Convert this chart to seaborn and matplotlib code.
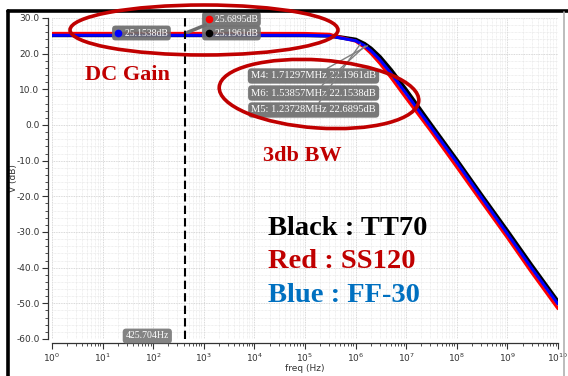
import numpy as np
import pandas as pd
import matplotlib
matplotlib.use("Agg")
import matplotlib.pyplot as plt
import matplotlib.transforms as mtransforms
from matplotlib.patches import Ellipse
from matplotlib.lines import Line2D
import matplotlib.ticker as mticker
import seaborn as sns

# ---------------- data ----------------
freq_hz = [1, 10, 100, 1e3, 1e4, 1e5, 3e5, 1e6, 1.5e6, 2e6, 3e6, 5e6,
           1e7, 3e7, 1e8, 3e8, 1e9, 3e9, 1e10]
tt70_db = [25.20, 25.20, 25.20, 25.20, 25.20, 25.19, 25.07, 23.92, 22.72, 21.45,
           19.10, 15.40, 9.73, 0.30, -9.90, -19.50, -29.80, -39.40, -49.60]
ss120_db = [25.69, 25.69, 25.69, 25.69, 25.69, 25.67, 25.44, 23.51, 21.76, 20.11,
            17.31, 13.31, 7.50, -1.50, -11.80, -21.30, -31.60, -41.30, -51.50]
ff30_db = [25.15, 25.15, 25.15, 25.15, 25.15, 25.14, 24.99, 23.62, 22.25, 20.85,
           18.34, 14.52, 8.80, -0.40, -10.50, -20.10, -30.50, -40.10, -50.20]

corners = ["TT70", "SS120", "FF-30"]
corner_colors = ["#000000", "#ff0000", "#0000ff"]
corner_widths = [3.0, 2.2, 2.2]

marker_freq = 425.704
dc_labels = ["25.1961dB", "25.6895dB", "25.1538dB"]
bw_labels = ["M4: 1.71297MHz 22.1961dB", "M6: 1.53857MHz 22.1538dB",
             "M5: 1.23728MHz 22.6895dB"]
bw_freqs = [1.71297e6, 1.53857e6, 1.23728e6]
bw_vals = [22.1961, 22.1538, 22.6895]

y_ticks = [30, 20, 10, 0, -10, -20, -30, -40, -50, -60]
x_ticks = [10.0 ** k for k in range(0, 11)]

legend_lines = ["Black : TT70", "Red : SS120", "Blue : FF-30"]
legend_colors = ["#000000", "#c00000", "#0070c0"]

# ---------------- figure ----------------
sns.set_theme(style="white")
plt.rcParams['font.family'] = ['DejaVu Sans']

W, H = 568, 376
fig = plt.figure(figsize=(W / 100, H / 100), dpi=100)
fig.patch.set_facecolor("white")
px = mtransforms.Affine2D().scale(0.01, -0.01).translate(0, H / 100) + fig.dpi_scale_trans

ax = fig.add_axes([52 / W, 1 - 339 / H, (558 - 52) / W, (339 - 18) / H])
ax.set_facecolor("white")

df = pd.concat([
    pd.DataFrame({"freq": freq_hz, "db": tt70_db, "corner": "TT70"}),
    pd.DataFrame({"freq": freq_hz, "db": ss120_db, "corner": "SS120"}),
    pd.DataFrame({"freq": freq_hz, "db": ff30_db, "corner": "FF-30"}),
])

ax.set_xscale("log")
for c, col, lw in zip(corners, corner_colors, corner_widths):
    sub = df[df["corner"] == c]
    sns.lineplot(data=sub, x="freq", y="db", color=col, linewidth=lw, ax=ax,
                 legend=False, zorder=3)

ax.set_xlim(1, 1e10)
ax.set_ylim(-60, 30)
ax.set_xticks(x_ticks)
ax.xaxis.set_major_formatter(mticker.LogFormatterMathtext())
ax.xaxis.set_minor_locator(mticker.LogLocator(base=10, subs=np.arange(2, 10), numticks=100))
ax.xaxis.set_minor_formatter(mticker.NullFormatter())
ax.set_yticks(y_ticks)
ax.yaxis.set_major_formatter(mticker.FormatStrFormatter("%.1f"))
ax.yaxis.set_minor_locator(mticker.MultipleLocator(2))

ax.grid(True, which="major", color="#cccccc", linestyle=(0, (1, 1)), linewidth=0.6)
ax.grid(True, which="minor", color="#e2e2e2", linestyle=(0, (1, 1)), linewidth=0.5)
ax.set_axisbelow(True)

for s in ["top", "right"]:
    ax.spines[s].set_visible(False)
ax.spines["left"].set_position(("outward", 3))
ax.spines["bottom"].set_position(("outward", 3))
for s in ["left", "bottom"]:
    ax.spines[s].set_color("#333333")
    ax.spines[s].set_linewidth(0.9)

ax.tick_params(axis="both", which="major", direction="out", length=4, width=0.8,
               color="#333333", labelsize=6.5, labelcolor="#333333", pad=2,
               left=True, bottom=True)
ax.tick_params(axis="both", which="minor", direction="out", length=2, width=0.6,
               color="#333333", left=True, bottom=True)
ax.set_xlabel("freq (Hz)", fontsize=6.5, color="#333333", labelpad=0)
ax.set_ylabel("V (dB)", fontsize=6.5, color="#333333")
ax.yaxis.set_label_coords(18, 178, transform=px)

# vertical dashed marker line
ax.axvline(marker_freq, color="black", linestyle=(0, (4, 2)), linewidth=1.5, zorder=4)

lab_font = ["Liberation Serif", "DejaVu Serif"]
boxkw = dict(boxstyle="round,pad=0.3,rounding_size=0.35", facecolor="#6e6e6e",
             edgecolor="none", alpha=0.92)

# pointer from red label to the curve
ax.annotate("", xy=(marker_freq, ss120_db[3]), xytext=(208, 24), textcoords=px,
            arrowprops=dict(arrowstyle="-", color="#6e6e6e", lw=2.5), zorder=5)

# DC gain marker labels (box includes room for the coloured dot)
dc_pos = [(205, 33), (205, 19), (115, 33)]
dot_pos = [(209, 33), (209, 19), (118, 33)]
for lab, (tx, ty), (dx, dy), col in zip(dc_labels, dc_pos, dot_pos, corner_colors):
    ax.text(tx, ty, "    " + lab, transform=px, fontsize=7, color="white",
            va="center", ha="left", bbox=boxkw, zorder=6, clip_on=False,
            family=lab_font)
    fig.add_artist(Line2D([dx], [dy], marker="o", markersize=4.5, color=col,
                          transform=px, zorder=7))

# 3dB bandwidth labels
bw_pos = [(376, 76), (376, 93), (376, 110)]
for lab, (tx, ty), f, v in zip(bw_labels, bw_pos, bw_freqs, bw_vals):
    ax.annotate(lab, xy=(f, v), xytext=(tx, ty), textcoords=px, fontsize=7.6,
                color="white", va="center", ha="right", family=lab_font,
                bbox=boxkw,
                arrowprops=dict(arrowstyle="-", color="#808080", lw=1.0,
                                shrinkA=0, shrinkB=0),
                zorder=6, annotation_clip=False)

# marker frequency label at bottom
ax.text(169, 336, "425.704Hz", transform=px, fontsize=7, color="white",
        ha="right", va="center", family=lab_font,
        bbox=dict(boxstyle="round,pad=0.3,rounding_size=0.35", facecolor="#7a7a7a",
                  edgecolor="none", alpha=0.92), zorder=6, clip_on=False)

# red ellipses
fig.add_artist(Ellipse((204, 30), 268, 50, angle=0, transform=px, fill=False,
                       edgecolor="#c00000", linewidth=2.6, zorder=8))
fig.add_artist(Ellipse((319, 94), 200, 68, angle=4, transform=px, fill=False,
                       edgecolor="#c00000", linewidth=2.6, zorder=8))

serif = ["Liberation Serif", "DejaVu Serif"]
fig.text(85 / W, 1 - 75 / H, "DC Gain", fontsize=16, fontweight="bold",
         color="#c00000", family=serif, ha="left", va="center", zorder=9)
fig.text(263 / W, 1 - 156 / H, "3db BW", fontsize=16, fontweight="bold",
         color="#c00000", family=serif, ha="left", va="center", zorder=9)
for i, (t, c) in enumerate(zip(legend_lines, legend_colors)):
    fig.text(268 / W, 1 - (228 + 33.5 * i) / H, t, fontsize=20.5, fontweight="bold",
             color=c, family=serif, ha="left", va="center", zorder=9)

# window frame lines
fig.add_artist(Line2D([8, 8], [11, H], color="black", linewidth=2.6, transform=px))
fig.add_artist(Line2D([8, W], [11, 11], color="black", linewidth=2.6, transform=px))
fig.add_artist(Line2D([564, 564], [12, H], color="#b0b0b0", linewidth=1.2, transform=px))

fig.savefig("out.png", dpi=100, facecolor="white")
